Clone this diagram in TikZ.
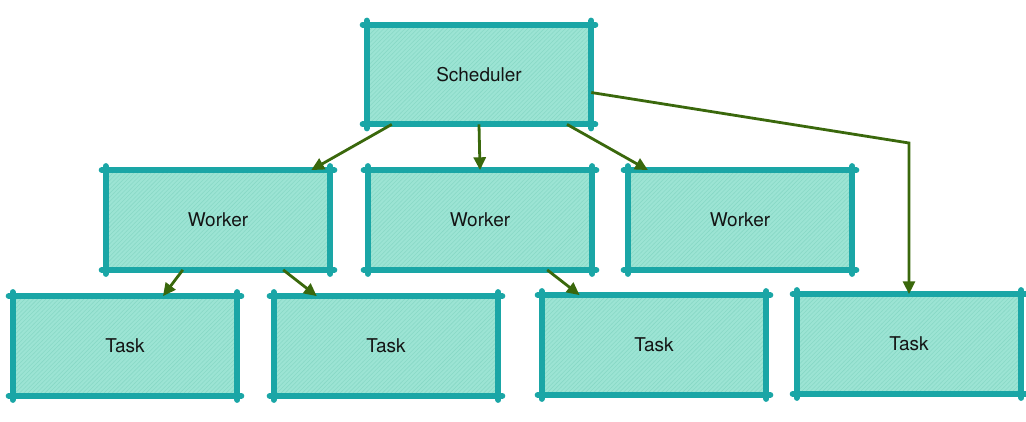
\documentclass[tikz,border=0pt]{standalone}
\usepackage{fontspec}
\setmainfont{TeX Gyre Heros}
\usetikzlibrary{arrows.meta,patterns}

\definecolor{framecolor}{RGB}{26,166,166}
\definecolor{boxfill}{RGB}{156,228,212}
\definecolor{hatchcolor}{RGB}{136,216,198}
\definecolor{arrowcolor}{RGB}{58,104,12}
\definecolor{labelcolor}{RGB}{20,20,20}

\tikzset{
  sketchbox/.style={fill=boxfill, postaction={pattern=north east lines, pattern color=hatchcolor},
    minimum width=5.6cm, minimum height=2.48cm, inner sep=0pt, text=labelcolor,
    font=\fontsize{13.5}{15}\selectfont},
  sketchside/.style={draw=framecolor, line width=0.15cm, line cap=round},
  link/.style={draw=arrowcolor, line width=0.07cm, -{Triangle[length=0.32cm,width=0.3cm]}}
}

\begin{document}
\begin{tikzpicture}[x=0.025cm, y=-0.025cm]
        \useasboundingbox (0,0) rectangle (1026,421);

        % Scheduler on top
        \node[sketchbox] (sched) at (479,74.5) {Scheduler};

        % Workers
        \node[sketchbox] (w1) at (218,220) {Worker};
        \node[sketchbox] (w2) at (480,220) {Worker};
        \node[sketchbox] (w3) at (740,220) {Worker};

        % Tasks
        \node[sketchbox] (t1) at (125,346) {Task};
        \node[sketchbox] (t2) at (386,346) {Task};
        \node[sketchbox] (t3) at (654,345) {Task};
        \node[sketchbox] (t4) at (909,344) {Task};

        % Sketchy frames, sides run past the corners
        \foreach \n in {sched,w1,w2,w3,t1,t2,t3,t4} {
          \draw[sketchside] ([xshift=-0.1cm]\n.north west) -- ([xshift=0.1cm]\n.north east);
          \draw[sketchside] ([xshift=-0.1cm]\n.south west) -- ([xshift=0.1cm]\n.south east);
          \draw[sketchside] ([yshift=0.1cm]\n.north west) -- ([yshift=-0.1cm]\n.south west);
          \draw[sketchside] ([yshift=0.1cm]\n.north east) -- ([yshift=-0.1cm]\n.south east);
        }

        % Arrows from the scheduler
        \draw[link] ([xshift=-2.18cm]sched.south) -- ([xshift=2.33cm]w1.north);
        \draw[link] (sched.south) -- (w2.north);
        \draw[link] ([xshift=2.2cm]sched.south) -- ([xshift=-2.3cm]w3.north);
        \coordinate (bend) at (909,143);
        \draw[link] ([yshift=-0.45cm]sched.east) -- (bend) -- (t4.north);

        % Arrows from the workers
        \draw[link] ([xshift=-0.88cm]w1.south) -- ([xshift=0.95cm]t1.north);
        \draw[link] ([xshift=1.63cm]w1.south) -- ([xshift=-1.73cm]t2.north);
        \draw[link] ([xshift=1.68cm]w2.south) -- ([xshift=-1.86cm]t3.north);
\end{tikzpicture}
\end{document}
